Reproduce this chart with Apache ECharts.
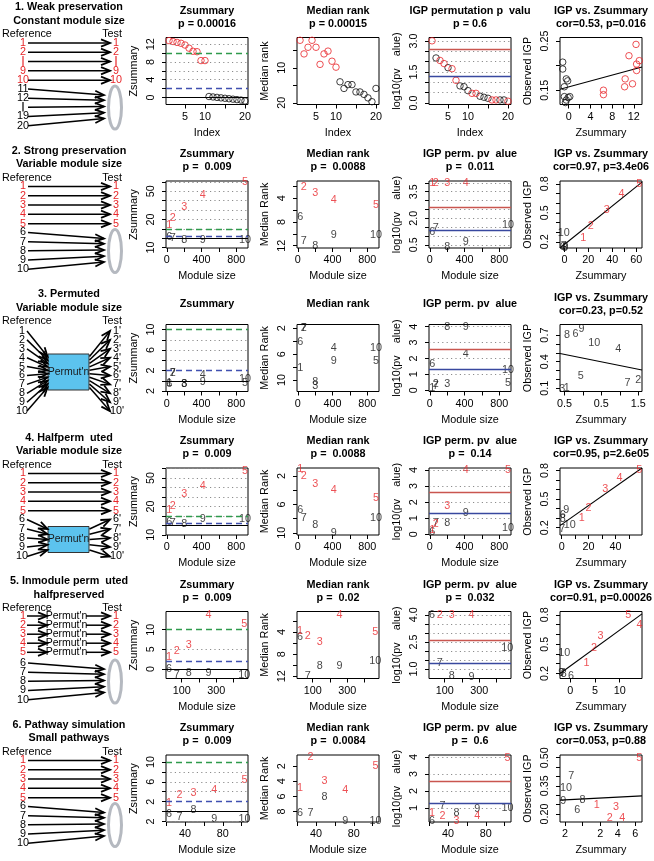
<!DOCTYPE html>
<html><head><meta charset="utf-8">
<script src="https://cdn.jsdelivr.net/npm/echarts@6/dist/echarts.min.js"></script>
<style>html,body{margin:0;padding:0;background:#fff}#c{width:654px;height:861px}</style>
</head><body><div id="c"></div><script>
// ================= DATA =================
const moduleLabels = ['1','2','3','4','5','6','7','8','9','10'];
const preservedColor = ['r','r','r','r','r','k','k','k','k','k'];
const permutedColor = ['k','k','k','k','k','k','k','k','k','k'];

// Row 1: weak preservation, constant module size (20 modules)
const r1Index = [1,2,3,4,5,6,7,8,9,10,11,12,13,14,15,16,17,18,19,20];
const r1Color = ['r','r','r','r','r','r','r','r','r','r','k','k','k','k','k','k','k','k','k','k'];
const r1Zsummary = [12.8,12.6,12.4,12.2,11.8,11.1,10.4,10.3,8.3,8.3,0.2,0.1,0,-0.1,-0.2,-0.3,-0.4,-0.5,-0.6,-0.8];
const r1MedianRank = [2.1,6,4.1,2.1,4.1,9,6,5.2,8.1,9.8,14,15.9,14.8,14.8,16.9,16.9,17.6,18.6,19.7,15.9];
const r1IgpLogP = [3.01,2.18,2.06,1.91,1.71,1.66,1.10,0.83,0.79,0.60,0.47,0.47,0.33,0.28,0.23,0.15,0.15,0.15,0.15,0.09];
const r1IgpColor = ['r','k','r','r','k','r','r','k','k','k','r','r','k','k','k','r','r','k','k','r'];
const r1CorZ = [6.4,6.4,10.4,10.3,11.1,11.75,12.5,12.5,13.0,12.4,-1.1,-1.1,-0.44,-0.19,-0.8,-0.8,-0.44,-0.1,-0.6,0.2];
const r1CorIGP = [0.15,0.141,0.173,0.157,0.22,0.163,0.19,0.203,0.21,0.243,0.207,0.193,0.173,0.169,0.157,0.137,0.13,0.135,0.125,0.137];
const r1Fit = [[-1.6,0.152],[13.5,0.197]];

// Row 2: strong preservation
const r2Size = [28,70,200,415,900,28,70,200,415,900];
const r2Zsummary = [14.3,21.8,33,46,60.4,1.2,0.1,-2.5,-2.5,-2.5];
const r2MedianRank = [1.0,2.2,3.1,4.3,5.2,7.1,11.2,12.0,10.2,10.2];
const r2IgpLogP = [4.0,4.0,4.0,4.0,null,1.22,1.42,0.37,0.67,1.6];
const r2CorZ = [15.7,22,35.4,47.7,62.6,-1.5,-0.5,0.5,1,-0.5];
const r2CorIGP = [0.242,0.36,0.525,0.695,0.8,0.15,0.16,0.14,0.15,0.29];
const r2Fit = [[-3.7,0.136],[64.9,0.818]];

// Row 3: permuted
const r3Size = [28,70,200,415,900,28,70,200,415,900];
const r3Zsummary = [-0.5,1.5,-0.6,1.2,-0.4,-0.55,1.45,-0.67,-0.2,0.33];
const r3MedianRank = [8.2,2.0,11.0,5.0,7.05,4.1,1.95,10.3,7.05,5.0];
const r3IgpLogP = [0.15,0.37,0.37,2.25,0.47,1.66,0.27,4.0,4.0,1.3];
const r3CorZ = [-0.44,1.5,-0.56,0.96,-0.06,-0.2,1.21,-0.43,-0.04,0.31];
const r3CorIGP = [0.107,0.19,0.093,0.54,0.24,0.707,0.156,0.7,0.77,0.615];
const r3Fit = [[-0.62,0.493],[1.6,0.306]];

// Row 4: half-permuted
const r4Size = [28,70,200,415,900,28,70,200,415,900];
const r4Zsummary = [16.6,20.7,32.8,42,56.9,3.4,2.8,1.7,6.2,6.2];
const r4MedianRank = [1.05,2.0,3.1,4.0,5.1,6.8,7.9,8.9,10.0,7.9];
const r4IgpLogP = [0.27,0.62,1.77,4.0,4.0,0.16,0.68,0.68,1.3,0.37];
const r4CorZ = [15,20,32.5,43,57.8,0.8,0.3,0.8,3.3,6.0];
const r4CorIGP = [0.297,0.408,0.6,0.72,0.8,0.33,0.19,0.29,0.39,0.23];
const r4Fit = [[-1.3,0.222],[59.8,0.825]];

// Row 5: in-module permuted, half preserved
const r5Size = [27,71,140,255,462,27,71,140,255,462];
const r5Zsummary = [3.0,4.5,6.1,13.6,11.4,0,-1.5,-1.1,-1.1,-1.5];
const r5MedianRank = [3.9,4.7,5.9,1.0,4.0,4.9,12.0,10.2,10.2,9.2];
const r5IgpLogP = [null,4.0,4.0,4.0,null,4.0,1.31,0.63,0.58,2.17];
const r5CorZ = [3.3,4.8,6.1,14.0,11.7,0.14,-1.6,-1.3,-1.8,-1.2];
const r5CorIGP = [0.312,0.461,0.583,0.7,0.793,0.176,0.2,0.19,0.21,0.41];
const r5Fit = [[-2.07,0.2],[14.5,0.81]];

// Row 6: pathway simulation
const r6Size = [23,34,49,71,103,23,34,49,71,103];
const r6Zsummary = [1.72,3.4,3.8,4.3,6.3,-0.55,-1.0,0.34,-1.6,-1.6];
const r6MedianRank = [4.9,0.8,3.95,5.1,1.9,8.2,8.2,6.1,9.3,9.3];
const r6IgpLogP = [0.7,0.5,0.25,0.5,3.96,0.25,1.1,0.7,0.94,1.0];
const r6CorZ = [1.6,3.1,3.8,4.5,6.45,-0.6,-1.3,0,-2.2,-1.9];
const r6CorIGP = [0.25,0.18,0.238,0.177,0.496,0.22,0.4,0.274,0.268,0.34];
const r6Fit = [[-2.57,0.274],[6.76,0.297]];

// Tick values and tick labels
const idxTicks = [5,10,15,20], idxLabels = [5,10,20];
const sizeTicksA = [0,200,400,600,800], sizeLabelsA = [0,400,800];
const sizeTicks5 = [100,200,300,400], sizeLabels5 = [100,300];
const sizeTicks6 = [20,40,60,80,100], sizeLabels6 = [40,80];
const r1ZsTicks = [0,2,4,6,8,10,12], r1ZsLabels = [0,4,8,12];
const r1MrTicks = [5,10,15,20], r1MrLabels = [10,20];
const r1IgTicks = [0,0.5,1,1.5,2,2.5,3], r1IgLabels = [0,1.5,3];
const r1CxTicks = [0,2,4,6,8,10,12], r1CxLabels = [0,4,8,12];
const r1CyTicks = [0.15,0.2,0.25], r1CyLabels = [0.15,0.25];
const r2ZsTicks = [-10,0,10,20,30,40,50,60], r2ZsLabels = [-10,20,50];
const r2MrTicks = [2,4,6,8,10,12], r2MrLabels = [4,8,12];
const r2IgTicks = [0.5,1,1.5,2,2.5,3,3.5,4], r2IgLabels = [0.5,2,3.5];
const r2CxTicks = [0,10,20,30,40,50,60], r2CxLabels = [0,20,40,60];
const r2CyTicks = [0.2,0.3,0.4,0.5,0.6,0.7,0.8], r2CyLabels = [0.2,0.5,0.8];
const r3ZsTicks = [-2,0,2,4,6,8,10], r3ZsLabels = [-2,2,6,10];
const r3MrTicks = [2,4,6,8,10], r3MrLabels = [2,6,10];
const r3IgTicks = [0,1,2,3,4], r3IgLabels = [0,1,2,3,4];
const r3CxTicks = [-0.5,0,0.5,1,1.5], r3CxLabels = [-0.5,0.5,1.5];
const r3CyTicks = [0.1,0.2,0.3,0.4,0.5,0.6,0.7], r3CyLabels = [0.1,0.4,0.7];
const r4CxTicks = [0,10,20,30,40,50], r4CxLabels = [0,20,40];
const r5ZsTicks = [0,5,10], r5ZsLabels = [0,5,10];
const r5MrTicks = [2,4,6,8,10,12], r5MrLabels = [4,8,12];
const r5IgTicks = [1,1.5,2,2.5,3,3.5,4], r5IgLabels = [1,2.5,4];
const r5CxTicks = [0,5,10], r5CxLabels = [0,5,10];
const r6MrTicks = [2,4,6,8], r6MrLabels = [2,4,6,8];
const r6IgTicks = [1,2,3,4], r6IgLabels = [1,2,3,4];
const r6CxTicks = [-2,0,2,4,6], r6CxLabels = [-2,2,4,6];
const r6CyTicks = [0.2,0.25,0.3,0.35,0.4,0.45,0.5], r6CyLabels = [0.2,0.35,0.5];

// Titles
const zsTitles = [['Zsummary','p = 0.00016'],['Zsummary','p =  0.009'],['Zsummary'],['Zsummary','p =  0.009'],['Zsummary','p =  0.009'],['Zsummary','p =  0.009']];
const mrTitles = [['Median rank','p = 0.00015'],['Median rank','p =  0.0088'],['Median rank'],['Median rank','p =  0.0088'],['Median rank','p =  0.02'],['Median rank','p =  0.0084']];
const igTitles = [['IGP permutation p  valu','p = 0.6'],['IGP perm. pv  alue','p =  0.011'],['IGP perm. pv  alue'],['IGP perm. pv  alue','p =  0.14'],['IGP perm. pv  alue','p =  0.032'],['IGP perm. pv  alue','p =  0.6']];
const corTitles = [['IGP vs. Zsummary','cor=0.53, p=0.016'],['IGP vs. Zsummary','cor=0.97, p=3.4e06'],['IGP vs. Zsummary','cor=0.23, p=0.52'],['IGP vs. Zsummary','cor=0.95, p=2.6e05'],['IGP vs. Zsummary','cor=0.91, p=0.00026'],['IGP vs. Zsummary','cor=0.053, p=0.88']];
const diagTitles = [['1. Weak preservation','Constant module size'],['2. Strong preservation','Variable module size'],['3. Permuted','Variable module size'],['4. Halfperm  uted','Variable module size'],['5. Inmodule perm  uted','halfpreserved'],['6. Pathway simulation','Small pathways']];

// ================= STYLE / LAYOUT =================
const FONT = '"Liberation Sans", Arial, Helvetica, sans-serif';
const FS = 10.8;
const RED = '#e8262a', BLK = '#111111';
const GREEN = '#2f9a4c', BLUE_D = '#4050b0', RED_L = '#c9564f', BLUE_L = '#38489f', DOT = '#8c8c8c';
const GL = [166, 297, 429, 560], GW = 82, GH = 67, RH = 143.5, GT = 37.5;

const option = {animation:false, backgroundColor:'#fff', grid:[], xAxis:[], yAxis:[], series:[], graphic:{elements:[]}};
const G = option.graphic.elements;

function fmt(v, dec){ return Math.abs(v).toFixed(dec); } // minus signs are lost in the reference
function axis(dim, gi, a){
  return {
    gridIndex:gi, type:'value', min:a.min, max:a.max, inverse:!!a.inv,
    position: dim==='x'?'bottom':'left',
    axisLine:{show:false, onZero:false},
    axisTick:{show:true, inside:false, length:4, customValues:a.ticks, lineStyle:{color:'#000', width:1}},
    axisLabel:{show:true, customValues:a.labels, margin: dim==='x'?7:9, rotate: dim==='y'?90:0, fontSize:FS, fontFamily:FONT, color:'#000', formatter:v=>fmt(v, a.dec||0)},
    splitLine:{show:false}, minorTick:{show:false}, minorSplitLine:{show:false},
    name:a.name, nameLocation:'middle', nameGap: dim==='x'?23:26, nameRotate: dim==='y'?90:0,
    nameTextStyle:{fontSize:FS, fontFamily:FONT, color:'#000'}
  };
}
function T(x,y,text,o){ o=o||{}; G.push({type:'text', x:x, y:y, silent:true, z:10, style:{text:text, fill:o.c||'#000', fontSize:o.s||FS, fontFamily:FONT, fontWeight:o.b?'bold':'normal', textAlign:o.a||'center', textVerticalAlign:'middle', align:o.a||'center', verticalAlign:'middle'}}); }
function L(x1,y1,x2,y2,w,c){ G.push({type:'line', silent:true, z:10, shape:{x1:x1,y1:y1,x2:x2,y2:y2}, style:{stroke:c||'#000', lineWidth:w||1.5}}); }
function A(x1,y1,x2,y2){
  L(x1,y1,x2,y2,1.5);
  const dx=x2-x1, dy=y2-y1, n=Math.hypot(dx,dy), ux=dx/n, uy=dy/n, bx=x2-ux*9, by=y2-uy*9;
  G.push({type:'polyline', silent:true, z:10, shape:{points:[[bx-uy*3.6,by+ux*3.6],[x2,y2],[bx+uy*3.6,by-ux*3.6]]}, style:{stroke:'#000', lineWidth:1.8, fill:'none'}});
}

function pts(xs, ys, labels, colors, want){
  const out=[];
  for(let i=0;i<xs.length;i++){ if(ys[i]===null||ys[i]===undefined) continue; if(colors[i]!==want) continue; out.push([xs[i], ys[i], labels?labels[i]:'']); }
  return out;
}

function addPanel(p){
  const gi = option.grid.length, rs = p.r*RH;
  option.grid.push({left:GL[p.c], top:rs+GT, width:GW, height:GH, show:true, borderColor:'#000', borderWidth:1, backgroundColor:'rgba(0,0,0,0)'});
  option.xAxis.push(axis('x', gi, p.x));
  option.yAxis.push(axis('y', gi, p.y));
  const ml=[];
  (p.dotted||[]).forEach(v=>ml.push({yAxis:v, lineStyle:{type:[1.2,3.2], color:DOT, width:1}}));
  (p.lines||[]).forEach(l=>ml.push({yAxis:l[0], lineStyle:l[1]}));
  const circle = p.kind==='circle';
  const mk = (data,color,withML)=>{
    const s = {type:'scatter', xAxisIndex:gi, yAxisIndex:gi, data:data, symbol:'circle', symbolSize: circle?6.5:1,
      itemStyle: circle?{color:'rgba(0,0,0,0)', borderColor:color, borderWidth:1}:{color:'rgba(0,0,0,0)'},
      label: circle?{show:false}:{show:true, position:'inside', formatter:q=>q.data[2], color:color, fontSize:FS, fontFamily:FONT},
      silent:true, z:3, emphasis:{disabled:true}};
    if(withML) s.markLine = {silent:true, symbol:['none','none'], label:{show:false}, animation:false, data:ml};
    return s;
  };
  option.series.push(mk(p.black, BLK, true));
  option.series.push(mk(p.red, RED, false));
  if(p.fit) option.series.push({type:'line', xAxisIndex:gi, yAxisIndex:gi, data:p.fit, showSymbol:false, symbol:'none', clip:true, lineStyle:{color:'#000', width:1.1}, silent:true, z:2});
  const cx = GL[p.c]+GW/2;
  if(p.title.length===2){ T(cx, rs+11, p.title[0], {b:true}); T(cx, rs+24, p.title[1], {b:true}); }
  else T(cx, rs+17, p.title[0], {b:true});
}

const zsLines = [[10,{type:[6,4],color:GREEN,width:1.4}],[2,{type:[6,4],color:BLUE_D,width:1.4}],[0,{type:'solid',color:'#000',width:1}]];
const igLines = [[2.6,{type:'solid',color:RED_L,width:1.3}],[1.3,{type:'solid',color:BLUE_L,width:1.3}]];

// ---------- Row 1 ----------
const r1X = {min:0.24, max:20.76, ticks:idxTicks, labels:idxLabels, name:'Index'};
addPanel({r:0,c:0,kind:'circle',title:zsTitles[0],x:r1X,y:{min:-1.6,max:13.5,ticks:r1ZsTicks,labels:r1ZsLabels,name:'Zsummary'},
  red:pts(r1Index,r1Zsummary,null,r1Color,'r'),black:pts(r1Index,r1Zsummary,null,r1Color,'k'),dotted:[4,6,8,12],lines:zsLines});
addPanel({r:0,c:1,kind:'circle',title:mrTitles[0],x:r1X,y:{min:1.3,max:20.5,inv:true,ticks:r1MrTicks,labels:r1MrLabels,name:'Median rank'},
  red:pts(r1Index,r1MedianRank,null,r1Color,'r'),black:pts(r1Index,r1MedianRank,null,r1Color,'k')});
addPanel({r:0,c:2,kind:'circle',title:igTitles[0],x:r1X,y:{min:-0.07,max:3.17,ticks:r1IgTicks,labels:r1IgLabels,dec:1,name:'log10(pv    alue)'},
  red:pts(r1Index,r1IgpLogP,null,r1IgpColor,'r'),black:pts(r1Index,r1IgpLogP,null,r1IgpColor,'k'),dotted:[0.5,1,1.5,2,2.5,3],lines:igLines});
addPanel({r:0,c:3,kind:'circle',title:corTitles[0],x:{min:-1.6,max:13.5,ticks:r1CxTicks,labels:r1CxLabels,name:'Zsummary'},y:{min:0.121,max:0.257,ticks:r1CyTicks,labels:r1CyLabels,dec:2,name:'Observed IGP'},
  red:pts(r1CorZ,r1CorIGP,null,r1Color,'r'),black:pts(r1CorZ,r1CorIGP,null,r1Color,'k'),fit:r1Fit});

// ---------- Rows 2-6 ----------
const rows = [
  {r:1, size:r2Size, zs:r2Zsummary, mr:r2MedianRank, ig:r2IgpLogP, cz:r2CorZ, ci:r2CorIGP, fit:r2Fit, col:preservedColor,
   x:{min:-9,max:935,ticks:sizeTicksA,labels:sizeLabelsA}, zsY:{min:-10.5,max:61,ticks:r2ZsTicks,labels:r2ZsLabels}, zsDot:[10,20,30,40,50,60],
   mrY:{min:1.1,max:12.4,ticks:r2MrTicks,labels:r2MrLabels}, igY:{min:0.32,max:4.1,ticks:r2IgTicks,labels:r2IgLabels,dec:1}, igDot:[0.5,1,1.5,2,2.5,3,3.5,4],
   cX:{min:-3.7,max:64.9,ticks:r2CxTicks,labels:r2CxLabels}, cY:{min:0.136,max:0.829,ticks:r2CyTicks,labels:r2CyLabels,dec:1}},
  {r:2, size:r3Size, zs:r3Zsummary, mr:r3MedianRank, ig:r3IgpLogP, cz:r3CorZ, ci:r3CorIGP, fit:r3Fit, col:permutedColor,
   x:{min:-9,max:935,ticks:sizeTicksA,labels:sizeLabelsA}, zsY:{min:-2.1,max:11,ticks:r3ZsTicks,labels:r3ZsLabels}, zsDot:[4,6,8],
   mrY:{min:1.4,max:11.8,ticks:r3MrTicks,labels:r3MrLabels}, igY:{min:-0.08,max:4.14,ticks:r3IgTicks,labels:r3IgLabels}, igDot:[1,2,3,4],
   cX:{min:-0.62,max:1.6,ticks:r3CxTicks,labels:r3CxLabels,dec:1}, cY:{min:0.063,max:0.82,ticks:r3CyTicks,labels:r3CyLabels,dec:1}},
  {r:3, size:r4Size, zs:r4Zsummary, mr:r4MedianRank, ig:r4IgpLogP, cz:r4CorZ, ci:r4CorIGP, fit:r4Fit, col:preservedColor,
   x:{min:-9,max:935,ticks:sizeTicksA,labels:sizeLabelsA}, zsY:{min:-10.2,max:60.5,ticks:r2ZsTicks,labels:r2ZsLabels}, zsDot:[10,20,30,40,50,60],
   mrY:{min:0.87,max:10.3,ticks:r3MrTicks,labels:r3MrLabels}, igY:{min:-0.04,max:4.12,ticks:r3IgTicks,labels:r3IgLabels}, igDot:[1,2,3,4],
   cX:{min:-1.3,max:59.8,ticks:r4CxTicks,labels:r4CxLabels}, cY:{min:0.124,max:0.825,ticks:r2CyTicks,labels:r2CyLabels,dec:1}},
  {r:4, size:r5Size, zs:r5Zsummary, mr:r5MedianRank, ig:r5IgpLogP, cz:r5CorZ, ci:r5CorIGP, fit:r5Fit, col:preservedColor,
   x:{min:9,max:483,ticks:sizeTicks5,labels:sizeLabels5}, zsY:{min:-2.4,max:14.6,ticks:r5ZsTicks,labels:r5ZsLabels}, zsDot:[5],
   mrY:{min:0.3,max:12.4,ticks:r5MrTicks,labels:r5MrLabels}, igY:{min:0.48,max:4.18,ticks:r5IgTicks,labels:r5IgLabels,dec:1}, igDot:[1,1.5,2,2.5,3,3.5,4],
   cX:{min:-2.07,max:14.5,ticks:r5CxTicks,labels:r5CxLabels}, cY:{min:0.149,max:0.834,ticks:r2CyTicks,labels:r2CyLabels,dec:1}},
  {r:5, size:r6Size, zs:r6Zsummary, mr:r6MedianRank, ig:r6IgpLogP, cz:r6CorZ, ci:r6CorIGP, fit:r6Fit, col:preservedColor,
   x:{min:19.8,max:106.7,ticks:sizeTicks6,labels:sizeLabels6}, zsY:{min:-2.1,max:11.4,ticks:r3ZsTicks,labels:r3ZsLabels}, zsDot:[-2,4,6,8],
   mrY:{min:0.5,max:9.4,ticks:r6MrTicks,labels:r6MrLabels}, igY:{min:0.17,max:4.12,ticks:r6IgTicks,labels:r6IgLabels}, igDot:[1,2,3,4],
   cX:{min:-2.57,max:6.76,ticks:r6CxTicks,labels:r6CxLabels}, cY:{min:0.158,max:0.514,ticks:r6CyTicks,labels:r6CyLabels,dec:2}}
];
rows.forEach(R=>{
  const X = Object.assign({name:'Module size'}, R.x);
  addPanel({r:R.r,c:0,kind:'text',title:zsTitles[R.r],x:X,y:Object.assign({name:'Zsummary'},R.zsY),
    red:pts(R.size,R.zs,moduleLabels,R.col,'r'),black:pts(R.size,R.zs,moduleLabels,R.col,'k'),dotted:R.zsDot,lines:zsLines});
  addPanel({r:R.r,c:1,kind:'text',title:mrTitles[R.r],x:X,y:Object.assign({name:'Median Rank',inv:true},R.mrY),
    red:pts(R.size,R.mr,moduleLabels,R.col,'r'),black:pts(R.size,R.mr,moduleLabels,R.col,'k')});
  addPanel({r:R.r,c:2,kind:'text',title:igTitles[R.r],x:X,y:Object.assign({name:'log10(pv    alue)'},R.igY),
    red:pts(R.size,R.ig,moduleLabels,R.col,'r'),black:pts(R.size,R.ig,moduleLabels,R.col,'k'),dotted:R.igDot,lines:igLines});
  addPanel({r:R.r,c:3,kind:'text',title:corTitles[R.r],x:Object.assign({name:'Zsummary'},R.cX),y:Object.assign({name:'Observed IGP'},R.cY),
    red:pts(R.cz,R.ci,moduleLabels,R.col,'r'),black:pts(R.cz,R.ci,moduleLabels,R.col,'k'),fit:R.fit});
});

// ================= DIAGRAMS (first column) =================
const ELL = '#b5b9c0', BOX = '#5cc3ee';
function straightRed(rs, labs){
  const ys=[43,52.3,61.5,70.7,80.2];
  ys.forEach((o,k)=>{ const y=rs+o; if(labs[k]){ T(23,y,labs[k],{c:RED}); T(116,y,labs[k],{c:RED}); } A(28,y,110,y); });
}
function toEllipse(rs, labs){
  const ys=[89,98.2,107.3,116.4,125.8], tips=[95,100.3,106.5,112.7,118.5];
  ys.forEach((o,k)=>{ const y=rs+o; if(labs[k]) T(23,y,labs[k]); A(28,y,104,rs+tips[k]); });
  G.push({type:'ellipse', silent:true, z:10, shape:{cx:115, cy:rs+107.5, rx:6.5, ry:21.5}, style:{stroke:ELL, lineWidth:3, fill:'none'}});
}
function permBox(x,y,w,h){
  G.push({type:'rect', silent:true, z:9, shape:{x:x,y:y,width:w,height:h}, style:{fill:BOX, stroke:'#333', lineWidth:1}});
  T(x+w/2, y+h/2, "Permut'n", {s:10.5, c:'#1a1a1a'});
}
diagTitles.forEach((t,r)=>{
  const rs=r*RH;
  T(69, rs+7.5, t[0], {b:true}); T(69, rs+21, t[1], {b:true});
  T(2, rs+34.5, 'Reference', {a:'left'}); T(122, rs+34.5, 'Test', {a:'right'});
  if(r===0){
    straightRed(rs, ['1','2',null,'9','10']);
    L(23,rs+56,23,rs+66.5,1.2,RED); L(116,rs+56,116,rs+66.5,1.2,RED);
    toEllipse(rs, ['11','12',null,'19','20']);
    L(23,rs+102,23,rs+111.5,1.2,'#000');
  } else if(r===1 || r===5){
    straightRed(rs, ['1','2','3','4','5']);
    toEllipse(rs, ['6','7','8','9','10']);
  } else if(r===2){
    permBox(48, rs+67, 41, 36);
    for(let k=0;k<10;k++){
      const y=rs+44+k*8.9, yb=rs+69.5+k*3.45;
      T(22,y,String(k+1)); T(117,y,(k+1)+"'");
      A(27,y,47.5,yb); A(89.5,yb,110,y);
    }
  } else if(r===3){
    straightRed(rs, ['1','2','3','4','5']);
    permBox(48, rs+96, 41, 26);
    const ys=[89,98.5,107.5,116.5,126];
    ys.forEach((o,k)=>{ const y=rs+o, yb=rs+98.5+k*5.25; T(22,y,String(6+k)); T(117,y,(6+k)+"'"); A(27,y,47.5,yb); A(89.5,yb,110,y); });
  } else if(r===4){
    const ys=[42,51.2,60.2,69.2,78.3];
    ys.forEach((o,k)=>{ const y=rs+o; T(23,y,String(k+1),{c:RED}); A(27,y,47,y); T(66.5,y,"Permut'n",{s:10.5}); A(86,y,110,y); T(116,y,String(k+1),{c:RED}); });
    toEllipse(rs, ['6','7','8','9','10']);
  }
});

const chart = echarts.init(document.getElementById('c'), null, {renderer:'canvas'});
chart.setOption(option);
</script></body></html>
